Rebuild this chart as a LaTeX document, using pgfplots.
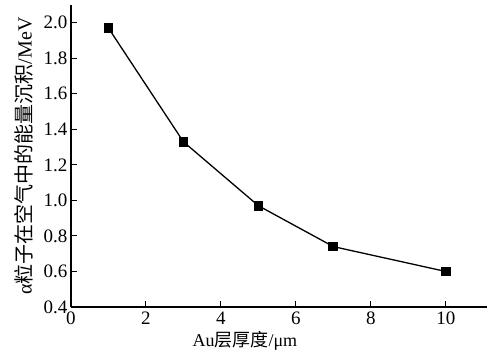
\documentclass[border=0pt]{standalone}
\usepackage{fontspec}
\setmainfont{Liberation Serif}
\newfontfamily\cjk{Noto Sans CJK SC}
\usepackage{pgfplots}
\pgfplotsset{compat=1.18}
\begin{document}
\begin{tikzpicture}
\begin{axis}[
  scale only axis,
  width=416bp, height=302bp,
  xmin=0, xmax=11.1, ymin=0.4, ymax=2.1,
  axis lines=left,
  axis line style={line width=1.2bp, -},
  xtick={0,2,4,6,8,10},
  ytick={0.4,0.6,0.8,1.0,1.2,1.4,1.6,1.8,2.0},
  yticklabel style={/pgf/number format/.cd, fixed, fixed zerofill, precision=1},
  tick align=inside,
  major tick length=6bp,
  tick style={line width=1bp, black},
  /pgf/number format/assume math mode=true,
  ticklabel style={font=\fontsize{19bp}{21bp}\selectfont},
  xticklabel style={yshift=-1bp},
  xlabel={Au{\cjk 层厚度}/μm},
  ylabel={α{\cjk 粒子在空气中的能量沉积}/MeV},
  every axis x label/.style={at={([yshift=-34bp]axis description cs:0.418,0)}, anchor=center, font=\fontsize{18bp}{20bp}\selectfont},
  every axis y label/.style={at={([xshift=-47bp]axis description cs:0,0.5)}, anchor=center, rotate=90, font=\fontsize{20bp}{22bp}\selectfont},
  clip=false,
]
\addplot[black, line width=1.3bp, mark=square*, mark size=4.2bp, mark options={solid, fill=black}]
  coordinates {(1,1.97) (3,1.33) (5,0.97) (7,0.74) (10,0.60)};
\end{axis}
\pgfresetboundingbox
\path (current axis.south west) ++(-71bp,-50bp) rectangle ++(490bp,357bp);
\end{tikzpicture}
\end{document}
